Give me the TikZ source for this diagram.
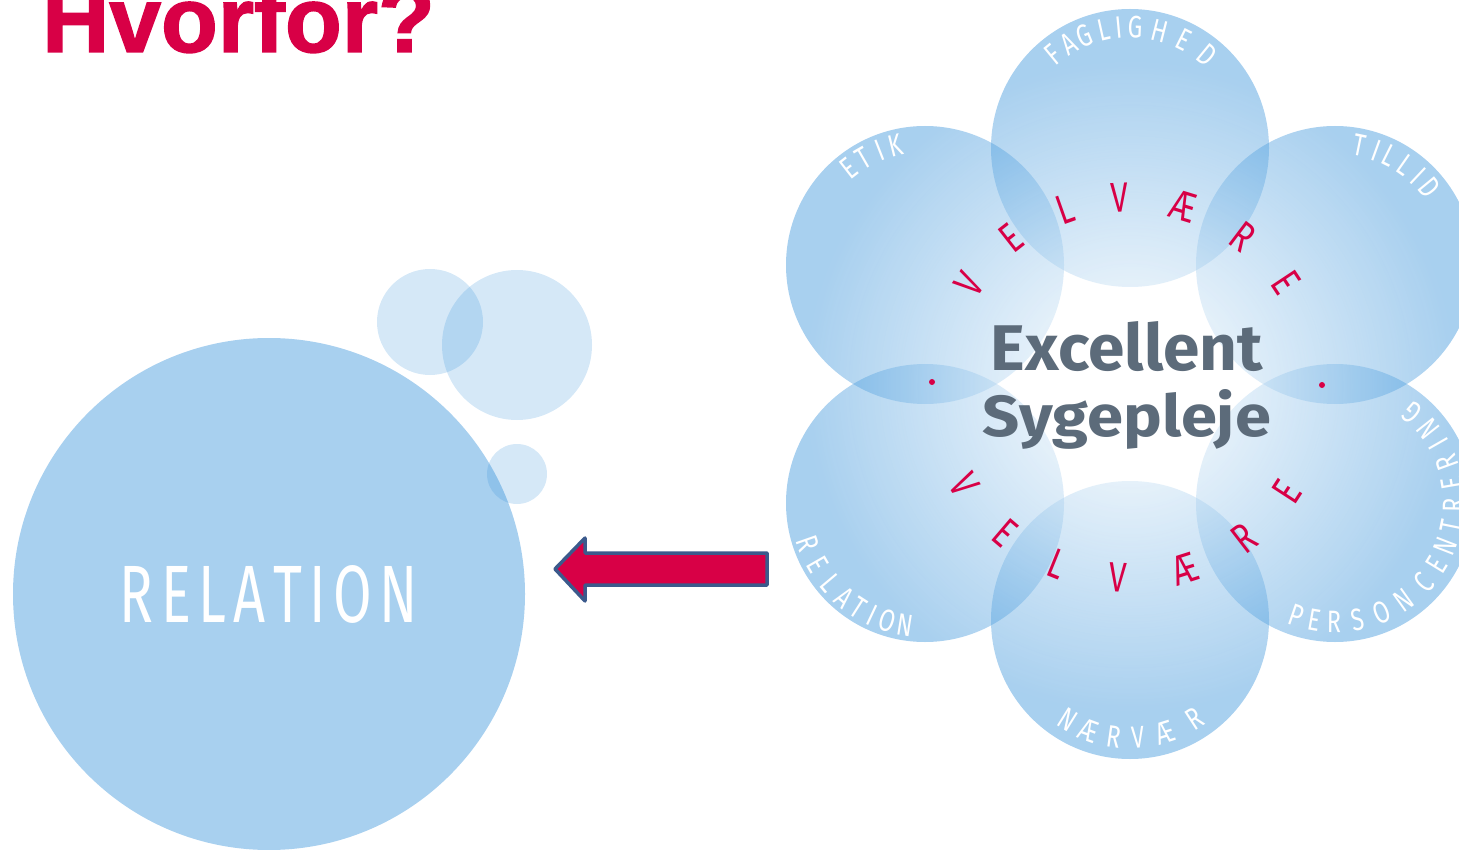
\documentclass[tikz,border=0pt]{standalone}
\usepackage{fontspec}
\usepackage{graphicx}
\setmainfont{Fira Sans}
\newfontfamily\titlefont{Liberation Sans}[FakeBold=1.6]
\newfontfamily\condfont{Fira Sans}[FakeStretch=0.75]
\usetikzlibrary{fadings}
\definecolor{bub}{RGB}{44,140,216}
\definecolor{crim}{RGB}{216,0,70}
\definecolor{arrowblue}{RGB}{59,90,140}
\definecolor{slate}{RGB}{92,107,122}
\tikzfading[name=radfade, inner color=transparent!0, outer color=transparent!100]
\begin{document}
\begin{tikzpicture}[x=1pt,y=1pt,
  bubble/.style={fill=bub, fill opacity=0.41},
  smallbub/.style={fill=bub, fill opacity=0.2},
  lbl/.style={text=white, font=\condfont\fontsize{31}{31}\selectfont, inner sep=0pt},
  vel/.style={text=crim, font=\condfont\fontsize{42}{42}\selectfont, inner sep=0pt},
  reddot/.style={fill=crim},
]
\useasboundingbox (0,0) rectangle (1459,-850);
\clip (0,0) rectangle (1459,-850);

% title
\node[anchor=base west, inner sep=0pt, text=crim,
      font=\titlefont\bfseries\fontsize{93}{93}\selectfont] (title) at (42,-52) {Hvorfor?};

% left big circle and bubbles
\fill[bubble] (269,-594) circle (256);
\fill[smallbub] (430,-322) circle (53);
\fill[smallbub] (517,-345) circle (75);
\fill[smallbub] (517,-474) circle (30);
\node[anchor=base, inner sep=0pt, text=white] (relbig) at (269,-622)
  {\resizebox{298pt}{57pt}{\condfont R\kern.1em E\kern.1em L\kern.1em A\kern.1em T\kern.1em I\kern.1em O\kern.1em N}};

% arrow
\draw[fill=crim, draw=arrowblue, line width=3.5pt, line join=round]
  (555,-569) -- (585,-538) -- (585,-553) -- (767,-553) -- (767,-585)
  -- (585,-585) -- (585,-601) -- cycle;

% flower
\fill[bubble] (1130,-148) circle (139);
\fill[bubble] (925,-265) circle (139);
\fill[bubble] (1335,-265) circle (139);
\fill[bubble] (925,-503) circle (139);
\fill[bubble] (1335,-503) circle (139);
\fill[bubble] (1130,-620) circle (139);
\fill[white, path fading=radfade] (1130,-386) circle (325);

% circle labels (top arcs)
\foreach \c/\a [count=\i] in {F/129.4, A/120.6, G/112, L/102.6, I/95.3, G/87.6, H/75.8, E/63.4, D/50.6}
  \node[lbl, rotate=\a-90] (fag\i) at ([shift={(\a:121)}]1130,-148) {\c};
\foreach \c/\a [count=\i] in {E/128, T/120, I/111.5, K/104}
  \node[lbl, rotate=\a-90] (etik\i) at ([shift={(\a:123)}]925,-265) {\c};
\foreach \c/\a [count=\i] in {T/78.4, I/70, L/63.4, L/55, I/46.7, D/39.4}
  \node[lbl, rotate=\a-90] (till\i) at ([shift={(\a:122)}]1335,-265) {\c};
% bottom arcs
\foreach \c/\a [count=\i] in {R/199.3, E/209.9, L/220, A/229.5, T/237.3, I/244.8, O/252.4, N/260.8}
  \node[lbl, rotate=\a+90] (rel\i) at ([shift={(\a:124)}]925,-503) {\c};
\foreach \c/\a [count=\i] in {N/238, Æ/249.5, R/262, V/274, Æ/287.6, R/303}
  \node[lbl, rotate=\a+90] (naer\i) at ([shift={(\a:118)}]1130,-620) {\c};
\foreach \c/\a [count=\i] in {P/251, E/260, R/269.5, S/281, O/293, N/305.5, C/318, E/328.6, N/338.7, T/348.5, R/359, E/369.6, R/380, I/389.7, N/398.3, G/409.4}
  \node[lbl, rotate=\a+90] (pers\i) at ([shift={(\a:119)}]1335,-503) {\c};

% VELVÆRE
\foreach \c/\a [count=\i] in {V/147, E/128, L/109.5, V/92.4, Æ/73, R/53, E/33.6}
  \node[vel, rotate=\a-90] (velt\i) at ([shift={(\a:190)}]1128,-388) {\c};
\foreach \c/\a [count=\i] in {V/210.5, E/229.6, L/248, V/267, Æ/287.7, R/307.6, E/327}
  \node[vel, rotate=\a+90] (velb\i) at ([shift={(\a:190)}]1128,-388) {\c};
\fill[reddot] (932,-382) circle (3);
\fill[reddot] (1322,-385) circle (3);

% centre text
\node[anchor=base, inner sep=0pt, text=slate] (exc) at (1127,-370)
  {\resizebox{272pt}{49pt}{\bfseries Excellent}};
\node[anchor=base, inner sep=0pt, text=slate] (syg) at (1127,-436)
  {\resizebox{288pt}{47pt}{\bfseries Sygepleje}};
\end{tikzpicture}
\end{document}
